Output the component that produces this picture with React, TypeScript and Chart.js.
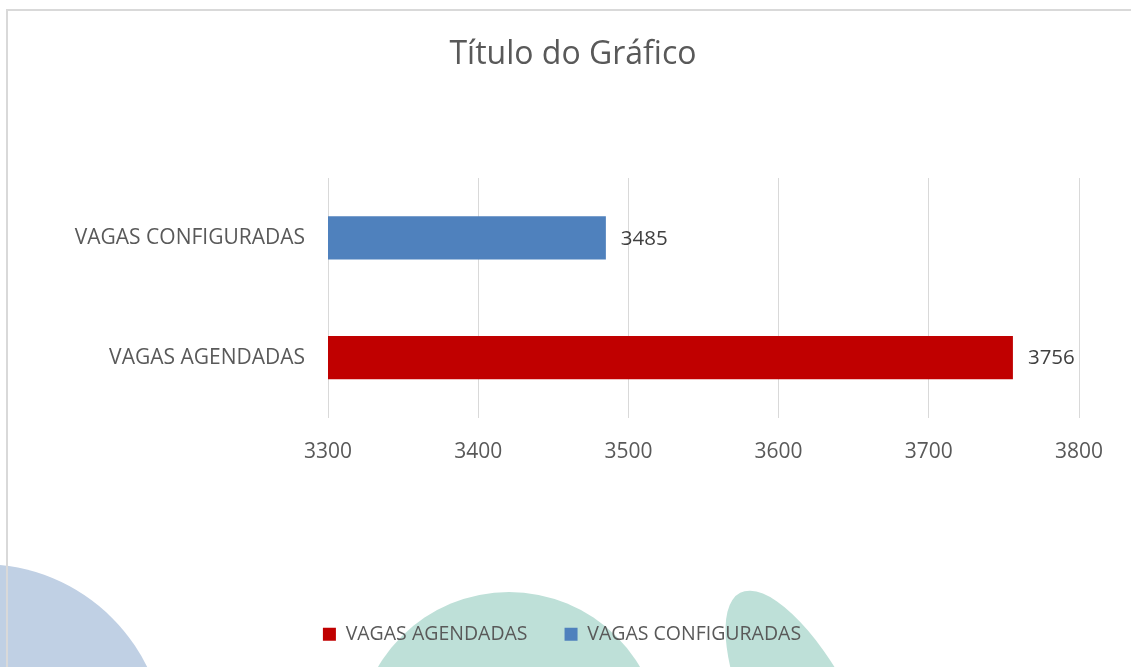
import React, { useEffect, useRef } from "react";
import { Chart, registerables } from "chart.js";

Chart.register(...registerables);

const chartTitle = "Título do Gráfico";
const categories = ["VAGAS AGENDADAS", "VAGAS CONFIGURADAS"];
const values = [3756, 3485];
const barColors = ["#C00000", "#4F81BD"];
const xTicks = [3300, 3400, 3500, 3600, 3700, 3800];

const FONT = "'Open Sans', sans-serif";
const TEXT = "#595959";

const backdrop = {
  id: "backdrop",
  beforeDraw(chart: any) {
    const ctx = chart.ctx;
    ctx.save();
    ctx.fillStyle = "#ffffff";
    ctx.fillRect(0, 0, chart.width, chart.height);
    ctx.fillStyle = "#c0d0e4";
    ctx.beginPath();
    ctx.arc(-18, 748, 184, 0, Math.PI * 2);
    ctx.fill();
    ctx.fillStyle = "#bee0d8";
    ctx.beginPath();
    ctx.arc(509, 744, 152, 0, Math.PI * 2);
    ctx.fill();
    ctx.beginPath();
    ctx.ellipse(806, 722, 52, 145, (-27 * Math.PI) / 180, 0, Math.PI * 2);
    ctx.fill();
    ctx.strokeStyle = "#d9d9d9";
    ctx.lineWidth = 2;
    ctx.beginPath();
    ctx.moveTo(7, chart.height);
    ctx.lineTo(7, 10);
    ctx.lineTo(chart.width, 10);
    ctx.stroke();
    ctx.restore();
  },
};

const legendShift = {
  id: "legendShift",
  afterLayout(chart: any) {
    if (chart.legend) {
      chart.legend.left -= 11;
      chart.legend.right -= 11;
    }
  },
};

const valueLabels = {
  id: "valueLabels",
  afterDatasetsDraw(chart: any) {
    const ctx = chart.ctx;
    const meta = chart.getDatasetMeta(0);
    ctx.save();
    ctx.font = `20.5px ${FONT}`;
    ctx.fillStyle = "#404040";
    ctx.textAlign = "left";
    ctx.textBaseline = "middle";
    meta.data.forEach((bar: any, i: number) => {
      ctx.fillText(String(values[i]), bar.x + 15, bar.y + 1);
    });
    ctx.restore();
  },
};

export default function App() {
  const ref = useRef<HTMLCanvasElement | null>(null);

  useEffect(() => {
    if (!ref.current) return;
    const chart = new Chart(ref.current, {
      type: "bar",
      data: {
        labels: categories,
        datasets: [
          {
            label: "Valores",
            data: values,
            backgroundColor: barColors,
            borderWidth: 0,
            barPercentage: 0.36,
            categoryPercentage: 1,
          },
        ],
      },
      options: {
        indexAxis: "y",
        animation: false,
        responsive: true,
        maintainAspectRatio: false,
        layout: { padding: { left: 67, right: 52, top: 0, bottom: 13 } },
        scales: {
          x: {
            type: "linear",
            min: xTicks[0],
            max: xTicks[xTicks.length - 1],
            afterBuildTicks: (s: any) => {
              s.ticks = xTicks.map((v) => ({ value: v }));
            },
            ticks: {
              color: TEXT,
              font: { size: 21, family: FONT },
              padding: 22,
              callback: (v: any) => String(v),
            },
            grid: { color: "#d9d9d9", lineWidth: 1, drawTicks: false },
            border: { display: false },
            afterFit: (s: any) => {
              s.height = 170;
            },
          },
          y: {
            type: "category",
            reverse: true,
            ticks: { color: TEXT, font: { size: 21, family: FONT }, padding: 23 },
            grid: { display: false, drawTicks: false },
            border: { display: false },
            afterFit: (s: any) => {
              s.width = 261;
            },
          },
        },
        plugins: {
          title: {
            display: true,
            text: chartTitle,
            color: TEXT,
            font: { size: 32, family: FONT, weight: "normal" },
            padding: { top: 36, bottom: 103.6 },
          },
          legend: {
            position: "bottom",
            labels: {
              boxWidth: 13,
              boxHeight: 13,
              padding: 37,
              color: TEXT,
              font: { size: 19.5, family: FONT },
              generateLabels: () =>
                categories.map((c, i) => ({
                  text: c,
                  fillStyle: barColors[i],
                  strokeStyle: barColors[i],
                  lineWidth: 0,
                  hidden: false,
                  index: i,
                  datasetIndex: 0,
                  fontColor: TEXT,
                })),
            },
          },
          tooltip: { enabled: false },
        },
      },
      plugins: [backdrop, legendShift, valueLabels],
    } as any);
    return () => chart.destroy();
  }, []);

  return (
    <div style={{ position: "fixed", left: 0, top: 0, width: 1131, height: 667 }}>
      <canvas ref={ref} />
    </div>
  );
}
